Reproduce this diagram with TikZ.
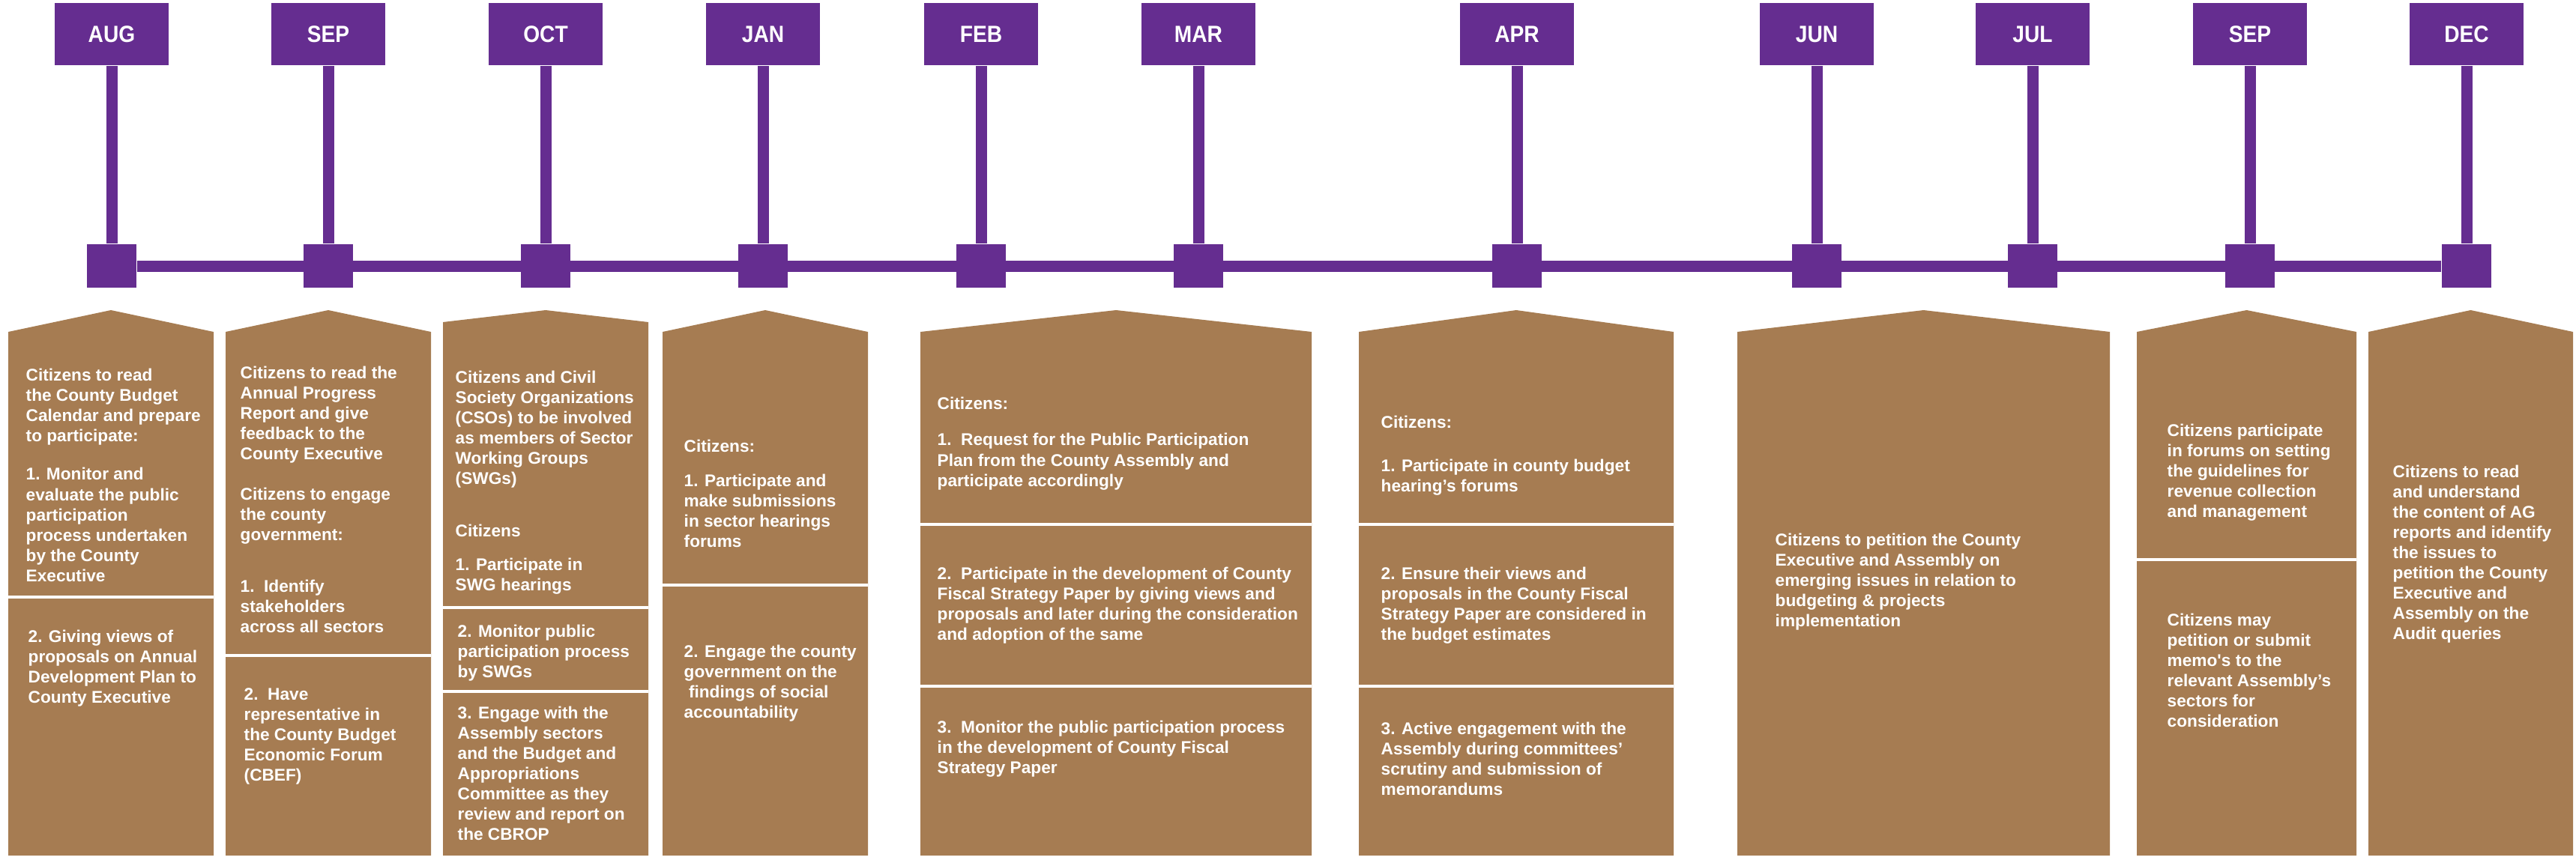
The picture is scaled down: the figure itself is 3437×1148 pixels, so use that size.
\documentclass[tikz,border=0pt]{standalone}
\usepackage{fontspec}
\setmainfont{Liberation Sans}
\newfontfamily\monthfont[FakeStretch=0.9]{Liberation Sans}
\definecolor{calpurple}{HTML}{652D90}
\definecolor{calbrown}{HTML}{A67C52}
\tikzset{
    month/.style={fill=calpurple, text=white, minimum width=15.2mm, minimum height=8.3mm,
        inner sep=0pt, font=\monthfont\bfseries\fontsize{8.9}{10}\selectfont},
    tick/.style={fill=calpurple, minimum width=6.6mm, minimum height=5.8mm, inner sep=0pt},
    stem/.style={draw=calpurple, line width=1.5mm},
    note/.style={anchor=north west, align=left, inner sep=0pt, text=white,
        font=\bfseries\fontsize{6.45}{7.7}\selectfont},
    divider/.style={draw=white, line width=0.45mm}
}
\begin{document}
\begin{tikzpicture}[x=0.1mm, y=-0.1mm]
    \useasboundingbox (0,0) rectangle (3437,1148);

    % Panels
    \foreach \xa/\xb/\sh in {11/285/443, 301/575/443, 591/865/430, 884/1158/443,
        1228/1750/443, 1813/2233/443, 2318/2815/443, 2851/3144/443, 3160/3433/443} {
        \fill[calbrown] (\xa,1142) -- (\xa,\sh) -- ({(\xa+\xb)/2},414)
            -- (\xb,\sh) -- (\xb,1142) -- cycle;
    }

    % Dividers
    \foreach \xa/\xb/\y in {11/285/797, 301/575/875, 591/865/811, 591/865/923,
        884/1158/781, 1228/1750/700, 1228/1750/916, 1813/2233/700, 1813/2233/916,
        2851/3144/747} {
        \draw[divider] (\xa,\y) -- (\xb,\y);
    }

    % Months
    \foreach \name/\x/\lbl in {m1/149/AUG, m2/438/SEP, m3/728/OCT, m4/1018/JAN,
        m5/1309/FEB, m6/1599/MAR, m7/2024/APR, m8/2424/JUN, m9/2712/JUL,
        m10/3002/SEP, m11/3291/DEC} {
        \node[month] (\name) at (\x,46) {\lbl};
        \node[tick] (t\name) at (\x,355) {};
        \draw[stem] (\name) -- (t\name);
    }
    \draw[stem] (tm1) -- (tm11);

    % Texts
    \node[note] (aug1) at (34,491) {Citizens to read\\the County Budget\\Calendar and prepare\\to participate:\\[7pt]1. Monitor and\\evaluate the public\\participation\\process undertaken\\by the County\\Executive};
    \node[note] (aug2) at (37,840) {2. Giving views of\\proposals on Annual\\Development Plan to\\County Executive};

    \node[note] (sep1) at (320,488) {Citizens to read the\\Annual Progress\\Report and give\\feedback to the\\County Executive\\[7.7pt]Citizens to engage\\the county\\government:\\[11.8pt]1.~~Identify\\stakeholders\\across all sectors};
    \node[note] (sep2) at (325,918) {2.~~Have\\representative in\\the County Budget\\Economic Forum\\(CBEF)};

    \node[note] (oct1) at (607,494) {Citizens and Civil\\Society Organizations\\(CSOs) to be involved\\as members of Sector\\Working Groups\\(SWGs)\\[12.3pt]Citizens\\[4.9pt]1. Participate in\\SWG hearings};
    \node[note] (oct2) at (610,833) {2. Monitor public\\participation process\\by SWGs};
    \node[note] (oct3) at (610,942) {3. Engage with the\\Assembly sectors\\and the Budget and\\Appropriations\\Committee as they\\review and report on\\the CBROP};

    \node[note] (jan1) at (912,586) {Citizens:\\[5.4pt]1. Participate and\\make submissions\\in sector hearings\\forums};
    \node[note] (jan2) at (912,860) {2. Engage the county\\government on the\\~findings of social\\accountability};

    \node[note] (feb1) at (1250,529) {Citizens:\\[6.2pt]1.~~Request for the Public Participation\\Plan from the County Assembly and\\participate accordingly};
    \node[note] (feb2) at (1250,756) {2.~~Participate in the development of County\\Fiscal Strategy Paper by giving views and\\proposals and later during the consideration\\and adoption of the same};
    \node[note] (feb3) at (1250,961) {3.~~Monitor the public participation process\\in the development of County Fiscal\\Strategy Paper};

    \node[note] (apr1) at (1842,554) {Citizens:\\[9pt]1. Participate in county budget\\hearing’s forums};
    \node[note] (apr2) at (1842,756) {2. Ensure their views and\\proposals in the County Fiscal\\Strategy Paper are considered in\\the budget estimates};
    \node[note] (apr3) at (1842,963) {3. Active engagement with the\\Assembly during committees’\\scrutiny and submission of\\memorandums};

    \node[note] (jun1) at (2368,711) {Citizens to petition the County\\Executive and Assembly on\\emerging issues in relation to\\budgeting \& projects\\implementation};

    \node[note] (sep3) at (2891,565) {Citizens participate\\in forums on setting\\the guidelines for\\revenue collection\\and management};
    \node[note] (sep4) at (2891,818) {Citizens may\\petition or submit\\memo\textquotesingle s to the\\relevant Assembly’s\\sectors for\\consideration};

    \node[note] (dec1) at (3192,620) {Citizens to read\\and understand\\the content of AG\\reports and identify\\the issues to\\petition the County\\Executive and\\Assembly on the\\Audit queries};
\end{tikzpicture}
\end{document}
